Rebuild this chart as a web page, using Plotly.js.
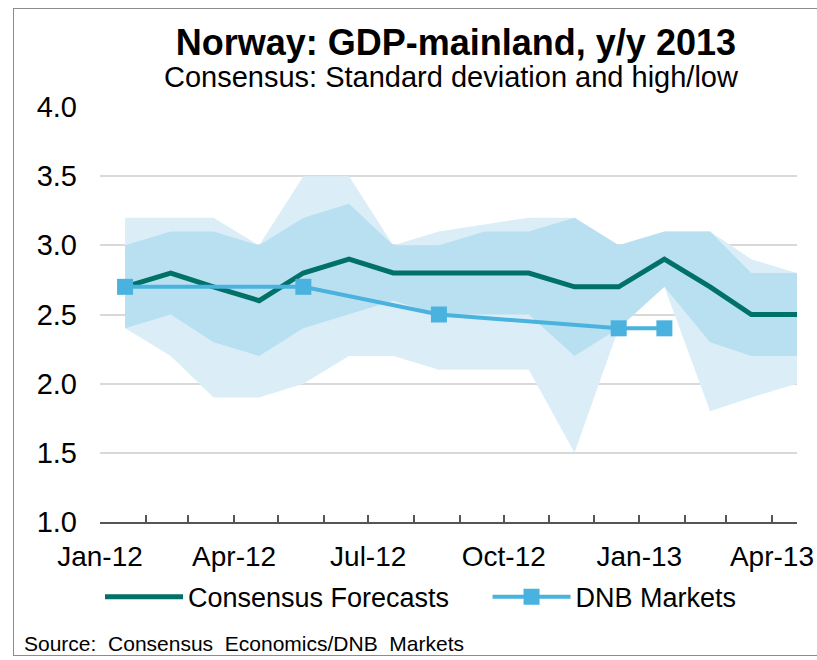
<!DOCTYPE html>
<html>
<head>
<meta charset="utf-8">
<script src="https://cdn.plot.ly/plotly-3.0.1.min.js"></script>
<style>
  body { margin: 0; background: #fff; }
  #wrap { position: relative; width: 817px; height: 660px; }
  #chart { width: 817px; height: 660px; }
  #frame { position: absolute; left: 13px; top: 8px; width: 810px; height: 646px;
           border: 1px solid #8c8c8c; border-right: none; pointer-events: none; }
</style>
</head>
<body>
<div id="wrap">
  <div id="chart"></div>
  <div id="frame"></div>
</div>
<script>
// survey months (plotted mid-month on a date axis)
var months = ['2012-01-18', '2012-02-18', '2012-03-18', '2012-04-18', '2012-05-18', '2012-06-18',
              '2012-07-18', '2012-08-18', '2012-09-18', '2012-10-18', '2012-11-18', '2012-12-18',
              '2013-01-18', '2013-02-18', '2013-03-18', '2013-04-18'];

var consensus = [2.7, 2.8, 2.7, 2.6, 2.8, 2.9, 2.8, 2.8, 2.8, 2.8, 2.7, 2.7, 2.9, 2.7, 2.5, 2.5];
var sdHigh    = [3.0, 3.1, 3.1, 3.0, 3.2, 3.3, 3.0, 3.0, 3.1, 3.1, 3.2, 3.0, 3.1, 3.1, 2.8, 2.8];
var sdLow     = [2.4, 2.5, 2.3, 2.2, 2.4, 2.5, 2.6, 2.5, 2.5, 2.5, 2.2, 2.4, 2.7, 2.3, 2.2, 2.2];
var high      = [3.2, 3.2, 3.2, 3.0, 3.5, 3.5, 3.0, 3.1, 3.15, 3.2, 3.2, 3.0, 3.1, 3.1, 2.9, 2.8];
var low       = [2.4, 2.2, 1.9, 1.9, 2.0, 2.2, 2.2, 2.1, 2.1, 2.1, 1.5, 2.4, 2.7, 1.8, 1.9, 2.0];
var dnb       = [2.7, null, null, null, 2.7, null, null, 2.5, null, null, null, 2.4, 2.4, null, null, null];

var font = '"Liberation Sans", Arial, sans-serif';
var green = '#007167';
var blue = '#4ab2de';

var traces = [
  { x: months, y: low, mode: 'lines', line: { width: 0 }, showlegend: false, hoverinfo: 'skip' },
  { x: months, y: high, mode: 'lines', line: { width: 0 }, fill: 'tonexty',
    fillcolor: '#dbeef8', showlegend: false, hoverinfo: 'skip' },
  { x: months, y: sdLow, mode: 'lines', line: { width: 0 }, showlegend: false, hoverinfo: 'skip' },
  { x: months, y: sdHigh, mode: 'lines', line: { width: 0 }, fill: 'tonexty',
    fillcolor: '#b8e0f1', showlegend: false, hoverinfo: 'skip' },
  { x: months, y: consensus, mode: 'lines', name: 'Consensus Forecasts',
    line: { color: green, width: 5 }, legend: 'legend' },
  { x: months, y: dnb, mode: 'lines+markers', name: 'DNB Markets', connectgaps: true,
    line: { color: blue, width: 4 },
    marker: { symbol: 'square', size: 16, color: blue }, legend: 'legend2' }
];

var legendFont = { family: font, size: 27 };

var layout = {
  width: 817,
  height: 660,
  paper_bgcolor: '#fff',
  plot_bgcolor: '#fff',
  font: { family: font, color: '#000', size: 29 },
  margin: { l: 100, r: 20, t: 107, b: 138 },
  title: {
    text: '<b>Norway: GDP-mainland, y/y 2013</b>',
    font: { family: font, size: 36, color: '#000' },
    x: 0.558, xref: 'container', xanchor: 'center',
    y: 1 - 42 / 660, yref: 'container', yanchor: 'middle'
  },
  xaxis: {
    type: 'date',
    range: ['2012-01-01', '2013-04-18'],
    tick0: '2012-01-01',
    dtick: 'M3',
    tickformat: '%b-%y',
    ticks: 'inside',
    ticklen: 7,
    tickwidth: 2,
    tickcolor: '#555',
    showline: true,
    linecolor: '#555',
    linewidth: 2,
    showgrid: false,
    ticklabelstandoff: 8,
    tickfont: { family: font, size: 28 },
    minor: { dtick: 'M1', ticks: 'inside', ticklen: 7, tickwidth: 2, tickcolor: '#555', showgrid: false }
  },
  yaxis: {
    range: [1, 4],
    dtick: 0.5,
    tickformat: '.1f',
    showline: false,
    zeroline: false,
    gridcolor: '#d9d9d9',
    gridwidth: 2,
    ticklabelstandoff: 22,
    tickfont: { family: font, size: 29 }
  },
  showlegend: true,
  legend: {
    orientation: 'h',
    x: 0.0, xanchor: 'left',
    y: -0.181, yanchor: 'middle',
    itemwidth: 78,
    font: legendFont
  },
  legend2: {
    orientation: 'h',
    x: 0.556, xanchor: 'left',
    y: -0.181, yanchor: 'middle',
    itemwidth: 78,
    font: legendFont
  },
  annotations: [
    {
      text: 'Consensus: Standard deviation and high/low',
      xref: 'paper', yref: 'paper', x: 0.504, y: 1 + (107 - 77) / 415,
      xanchor: 'center', yanchor: 'middle', showarrow: false,
      font: { family: font, size: 29 }
    },
    {
      text: 'Source:  Consensus  Economics/DNB  Markets',
      xref: 'paper', yref: 'paper', x: -0.112, y: -(643 - 522) / 415,
      xanchor: 'left', yanchor: 'middle', showarrow: false,
      font: { family: font, size: 21 }
    }
  ]
};

Plotly.newPlot('chart', traces, layout, { displayModeBar: false, staticPlot: true });
</script>
</body>
</html>
